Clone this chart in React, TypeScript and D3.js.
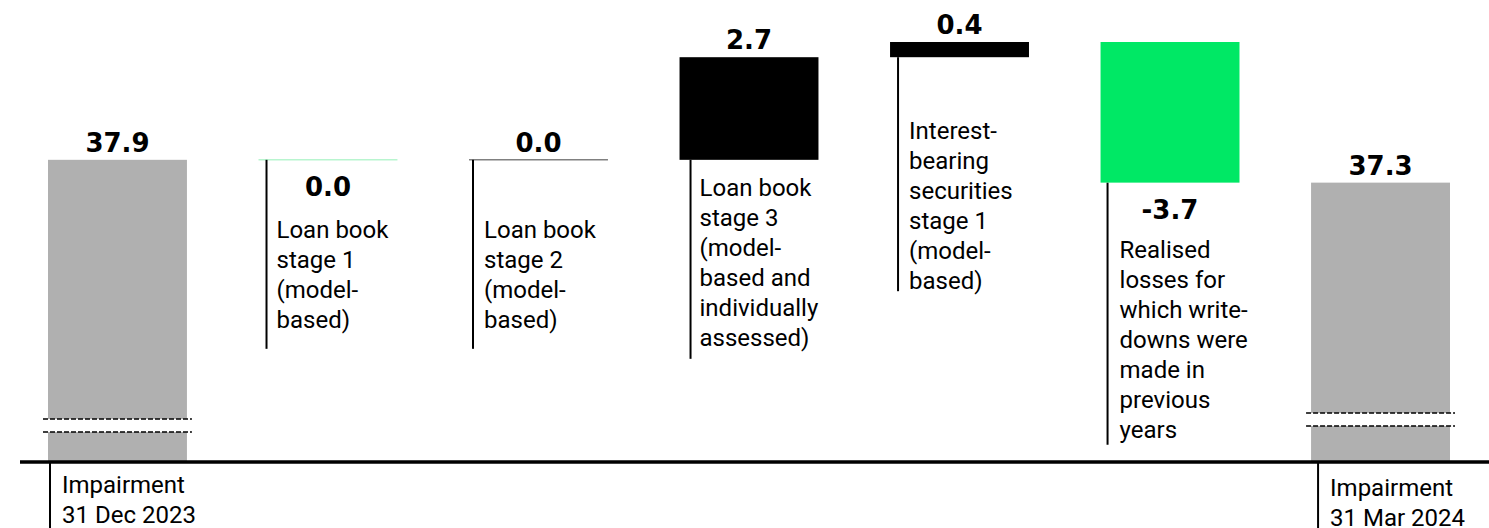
import React from "react";
import * as d3 from "d3";

// chart data
const categories: string[][] = [
  ["Impairment", "31 Dec 2023"],
  ["Loan book", "stage 1", "(model-", "based)"],
  ["Loan book", "stage 2", "(model-", "based)"],
  ["Loan book", "stage 3", "(model-", "based and", "individually", "assessed)"],
  ["Interest-", "bearing", "securities", "stage 1", "(model-", "based)"],
  ["Realised", "losses for", "which write-", "downs were", "made in", "previous", "years"],
  ["Impairment", "31 Mar 2024"],
];
const values = [37.9, 0.0, 0.0, 2.7, 0.4, -3.7, 37.3];
const kinds = ["total", "delta", "delta", "delta", "delta", "delta", "total"];

// layout tweaks per bar (label placement in the original)
const valueAbove = [true, false, true, true, true, false, true];
const zeroLineColor = ["#b0b0b0", "#b8f5cf", "#808080", "#000", "#000", "#00e865", "#b0b0b0"];
const textDy = [31, 78, 78, 36, 82, 75, 34];
const tailDy = [0, 21, 21, 13, 2, 7, 0];
const connectorDx = [2, 8, 4, 11, 8, 7, 7];
const textDx = [14, 18, 15, 20, 19, 19, 19];
const breakY = [419, 413];

const width = 1489;
const height = 528;
const baseY = 462;
const lineH = 30;

const locale = d3.formatLocale({
  decimal: ".",
  thousands: ",",
  grouping: [3],
  currency: ["", ""],
  minus: "-",
});
const fmt = locale.format(".1f");

const App = () => {
  const x = d3
    .scaleBand<number>()
    .domain(d3.range(values.length))
    .range([48, 1450])
    .paddingInner(0.34)
    .paddingOuter(0);
  const y = d3.scaleLinear().domain([29.95, 41]).range([baseY, 42]);

  // running totals for the waterfall
  let running = 0;
  const bars = values.map((v, i) => {
    if (kinds[i] === "total") {
      running = v;
      return { top: y(v), bottom: baseY, color: "#b0b0b0", total: true };
    }
    const start = running;
    running = running + v;
    const top = y(Math.max(start, running));
    const bottom = y(Math.min(start, running));
    const color = v > 0 ? "#000" : v < 0 ? "#00e865" : zeroLineColor[i];
    return { top, bottom, color, total: false };
  });

  let breakIdx = 0;

  return (
    <svg
      width={width}
      height={height}
      style={{ position: "absolute", left: 0, top: 0, background: "#fff" }}
    >
      {bars.map((b, i) => {
        const x0 = x(i)!;
        const bw = x.bandwidth();
        const isZero = !b.total && values[i] === 0;
        const lines = categories[i];
        const firstBase = b.bottom + textDy[i];
        const lastBase = firstBase + (lines.length - 1) * lineH;
        const cx = x0 + connectorDx[i];
        const tailEnd = b.total ? height : lastBase + tailDy[i];
        const labelY = valueAbove[i] ? b.top - 8 : b.bottom + 36;
        let brk = null;
        if (b.total) {
          const by = breakY[breakIdx++];
          brk = (
            <g>
              <rect x={x0 - 5} y={by} width={bw + 10} height={13} fill="#fff" />
              <line x1={x0 - 5} x2={x0 + bw + 5} y1={by} y2={by} stroke="#000" strokeWidth={1.5} strokeDasharray="5,2" />
              <line x1={x0 - 5} x2={x0 + bw + 5} y1={by + 13} y2={by + 13} stroke="#000" strokeWidth={1.5} strokeDasharray="5,2" />
            </g>
          );
        }
        return (
          <g key={i}>
            {isZero ? (
              <line x1={x0} x2={x0 + bw} y1={b.top} y2={b.top} stroke={b.color} strokeWidth={1.5} />
            ) : (
              <rect x={x0} y={b.top} width={bw} height={b.bottom - b.top} fill={b.color} />
            )}
            {brk}
            <line x1={cx} x2={cx} y1={b.bottom} y2={tailEnd} stroke="#000" strokeWidth={2} />
            <text
              x={x0 + bw / 2}
              y={labelY}
              textAnchor="middle"
              fontFamily="DejaVu Sans"
              fontWeight="bold"
              fontSize={26}
              fill="#000"
            >
              {fmt(values[i])}
            </text>
            <text x={x0 + textDx[i]} fontFamily="Roboto" fontSize={24} fill="#000">
              {lines.map((t, j) => (
                <tspan key={j} x={x0 + textDx[i]} y={firstBase + j * lineH}>
                  {t}
                </tspan>
              ))}
            </text>
          </g>
        );
      })}
      <line x1={20} x2={width} y1={baseY} y2={baseY} stroke="#000" strokeWidth={3.5} />
    </svg>
  );
};

export default App;
